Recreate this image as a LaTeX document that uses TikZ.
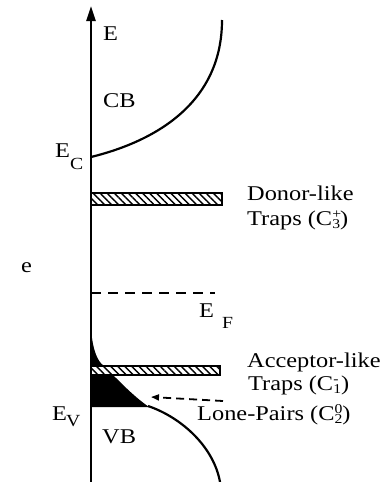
\documentclass[tikz,border=0pt]{standalone}
\usepackage{fontspec}
\setmainfont{Liberation Serif}[FakeStretch=1.16]
\usetikzlibrary{arrows.meta,patterns.meta}
\newcommand{\myss}[2]{\makebox[0pt][l]{\raisebox{7pt}{\fontsize{13.5}{13.5}\selectfont #1}}\raisebox{-3.5pt}{\fontsize{13.5}{13.5}\selectfont #2}}
\begin{document}
\begin{tikzpicture}[x=1pt,y=-1pt,
  lbl/.style={inner sep=0pt,anchor=base west,font=\fontsize{21}{24}\selectfont},
  axl/.style={inner sep=0pt,anchor=base west,font=\fontsize{21}{24}\selectfont},
  subl/.style={inner sep=0pt,anchor=base west,font=\fontsize{17}{19}\selectfont},
  band/.style={draw,line width=1.6pt,pattern={Lines[angle=-45,distance=5pt,line width=1.4pt]}},
  curve/.style={line width=2.2pt},
  dsh/.style={line width=1.8pt,dash pattern=on 10pt off 7pt}]
\useasboundingbox (0,0) rectangle (385,482);
% tails (black)
\fill (91,330) .. controls (93,350) and (97,361) .. (104,366) -- (91,366) -- cycle;
\fill (91,375) -- (113,375) .. controls (125,387) and (136,398) .. (149,407) -- (91,407) -- cycle;
% bands
\draw[band] (91,193) rectangle (222,205);
\draw[band] (91,366) rectangle (220,375);
% CB and VB curves
\coordinate (ec) at (91,157);
\coordinate (cbtop) at (222,20);
\draw[curve] (ec) .. controls (160,140) and (222,100) .. (cbtop);
\coordinate (ev) at (148,406);
\coordinate (vbbot) at (220,482);
\draw[curve] (ev) .. controls (183,418) and (214,448) .. (vbbot);
% Fermi level
\coordinate (ef0) at (91,293);
\coordinate (ef1) at (215,293);
\draw[dsh] (ef0) -- (ef1);
% axis
\coordinate (bot) at (91,482);
\coordinate (top) at (91,6);
\draw[line width=2.5pt,-{Triangle[length=15pt,width=9pt]}] (bot) -- (top);
% lone pair arrow
\coordinate (lpa) at (223,401);
\coordinate (lpb) at (151,397);
\draw[dsh,dash pattern=on 8pt off 5pt,-{Triangle[length=8pt,width=6pt]}] (lpa) -- (lpb);
% labels
\node[axl] (lE) at (103,40) {E};
\node[axl] (lCB) at (103,107) {CB};
\node[axl] (lEC) at (55,157) {E};
\node[subl] (lECs) at (70,169) {C};
\node[axl] (lVB) at (102,443) {VB};
\node[axl] (lEV) at (52,420) {E};
\node[subl] (lEVs) at (66,426) {V};
\node[axl] (lEF) at (199,317) {E};
\node[subl] (lEFs) at (222,328) {F};
\node[axl] (le) at (21,272) {e};
\node[lbl] (d1) at (247,200) {Donor-like};
\node[lbl] (d2) at (247,225) {Traps (C\myss{+}{3})};
\node[lbl] (a1) at (247,367) {Acceptor-like};
\node[lbl] (a2) at (248,390) {Traps (C\myss{-}{1})};
\node[lbl] (lp) at (197,420) {Lone-Pairs (C\myss{0}{2})};
\end{tikzpicture}
\end{document}
